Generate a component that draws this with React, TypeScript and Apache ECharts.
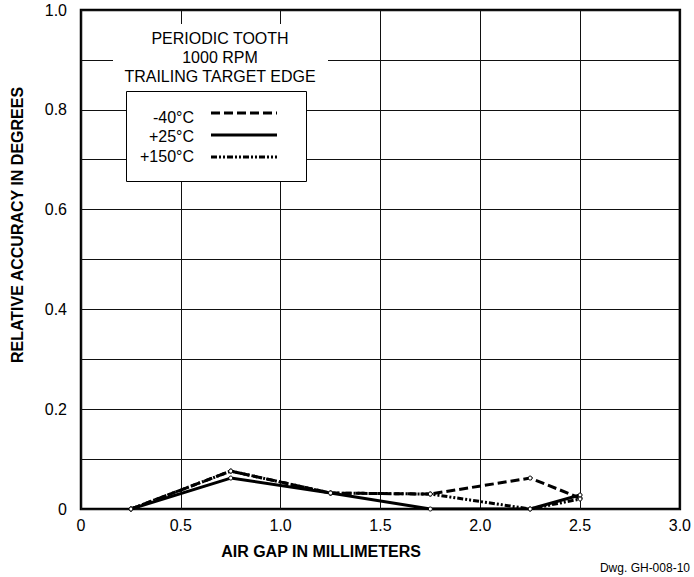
import React, { useEffect, useRef } from "react";
import * as echarts from "echarts";

const airGap = [0.25, 0.75, 1.25, 1.75, 2.25, 2.5];
const seriesNames = ["-40°C", "+25°C", "+150°C"];
const minus40 = [0, 0.076, 0.032, 0.03, 0.062, 0.022];
const plus25 = [0, 0.062, 0.032, 0, 0, 0.028];
const plus150 = [0, 0.076, 0.032, 0.03, 0, 0.02];
const titleLines = ["PERIODIC TOOTH", "1000 RPM", "TRAILING TARGET EDGE"];
const xName = "AIR GAP IN MILLIMETERS";
const yName = "RELATIVE ACCURACY IN DEGREES";
const drawingNo = "Dwg. GH-008-10";

const dashes: any[] = [[9, 4], "solid", [6, 2, 2, 2, 2, 2]];
const FONT = "'Liberation Sans', Arial, sans-serif";

export default function App() {
  const ref = useRef<HTMLDivElement>(null);
  useEffect(() => {
    document.body.style.margin = "0";
    const chart = echarts.init(ref.current!, null, { renderer: "svg" });
    const allData = [minus40, plus25, plus150];
    const series = allData.map((vals, i) => ({
      name: seriesNames[i],
      type: "line",
      data: airGap.map((x, j) => [x, vals[j]]),
      symbol: "circle",
      symbolSize: 4,
      showSymbol: true,
      itemStyle: { color: "#fff", borderColor: "#000", borderWidth: 1 },
      lineStyle: { color: "#000", width: 3, type: dashes[i] },
      z: 3 + i,
    }));

    const legendTextY = [117.5, 136.3, 156.7];
    const legendLineY = [113, 135, 157];
    const graphic: any[] = [
      {
        type: "rect",
        shape: { x: 113, y: 24, width: 215, height: 67 },
        style: { fill: "#fff" },
        z: 10,
      },
      ...titleLines.map((t, i) => ({
        type: "text",
        x: 220,
        y: 38.8 + i * 18.8,
        style: {
          text: t,
          font: `16px ${FONT}`,
          fill: "#000",
          textAlign: "center",
          textVerticalAlign: "middle",
        },
        z: 11,
      })),
      {
        type: "rect",
        shape: { x: 126.5, y: 91.5, width: 180, height: 90 },
        style: { fill: "#fff", stroke: "#000", lineWidth: 1 },
        z: 10,
      },
      ...seriesNames.map((n, i) => ({
        type: "text",
        x: 194,
        y: legendTextY[i],
        style: {
          text: n,
          font: `16px ${FONT}`,
          fill: "#000",
          textAlign: "right",
          textVerticalAlign: "middle",
        },
        z: 11,
      })),
      ...seriesNames.map((n, i) => ({
        type: "line",
        shape: { x1: 211, y1: legendLineY[i], x2: 277, y2: legendLineY[i] },
        style: {
          stroke: "#000",
          lineWidth: 3,
          lineDash: dashes[i] === "solid" ? null : dashes[i],
        },
        z: 11,
      })),
      {
        type: "text",
        x: 321,
        y: 551,
        style: {
          text: xName,
          font: `bold 16px ${FONT}`,
          fill: "#000",
          textAlign: "center",
          textVerticalAlign: "middle",
        },
      },
      {
        type: "text",
        x: 17,
        y: 225,
        rotation: Math.PI / 2,
        style: {
          text: yName,
          font: `bold 16px ${FONT}`,
          fill: "#000",
          textAlign: "center",
          textVerticalAlign: "middle",
        },
      },
      {
        type: "text",
        x: 690,
        y: 568,
        style: {
          text: drawingNo,
          font: `12px ${FONT}`,
          fill: "#000",
          textAlign: "right",
          textVerticalAlign: "middle",
        },
      },
    ];

    chart.setOption({
      animation: false,
      backgroundColor: "#fff",
      grid: {
        left: 81,
        right: 14,
        top: 10,
        bottom: 68,
        show: true,
        borderColor: "#000",
        borderWidth: 2.5,
        backgroundColor: "transparent",
      },
      xAxis: {
        type: "value",
        min: 0,
        max: 3,
        interval: 0.5,
        axisLine: { show: false },
        axisTick: { show: false },
        splitLine: { show: true, lineStyle: { color: "#111", width: 1 } },
        axisLabel: {
          margin: 8,
          color: "#000",
          fontSize: 16,
          fontFamily: FONT,
          formatter: (v: number) => (v === 0 ? "0" : v.toFixed(1)),
        },
      },
      yAxis: {
        type: "value",
        min: 0,
        max: 1,
        interval: 0.2,
        axisLine: { show: false },
        axisTick: { show: false },
        minorTick: { show: false, splitNumber: 2 },
        splitLine: { show: true, lineStyle: { color: "#111", width: 1 } },
        minorSplitLine: { show: true, lineStyle: { color: "#111", width: 1 } },
        axisLabel: {
          margin: 14,
          color: "#000",
          fontSize: 16,
          fontFamily: FONT,
          formatter: (v: number) => (v === 0 ? "0" : v.toFixed(1)),
        },
      },
      series,
      graphic,
    });
    return () => chart.dispose();
  }, []);
  return <div ref={ref} style={{ width: 694, height: 577 }} />;
}
